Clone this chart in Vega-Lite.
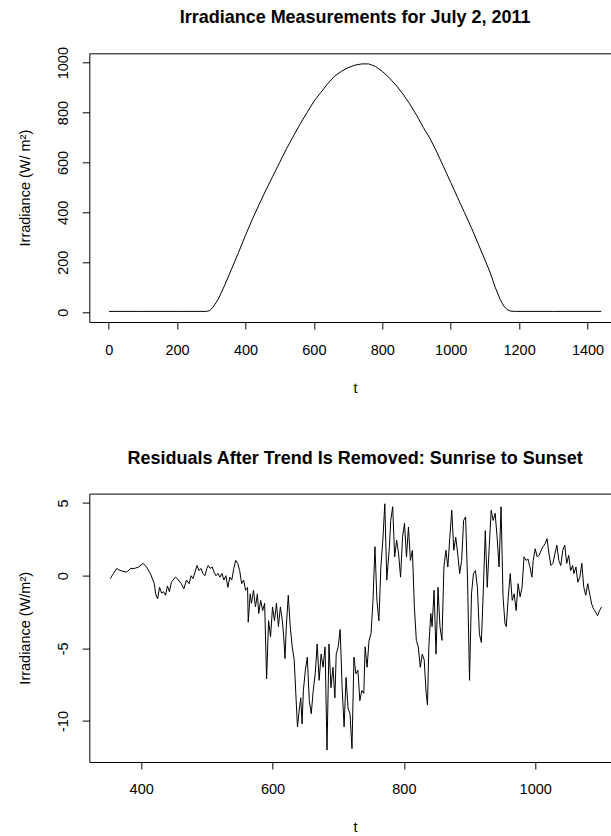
{
  "$schema": "https://vega.github.io/schema/vega-lite/v6.json",
  "autosize": {"type": "none"},
  "padding": {"left": 89.3, "top": 53.3, "right": 521.7, "bottom": 782.7},
  "bounds": "flush",
  "spacing": 171.3,
  "config": {
    "font": "Liberation Sans",
    "view": {"stroke": "#000", "strokeWidth": 1},
    "axis": {"grid": false, "domain": false, "ticks": true, "tickSize": 7, "tickColor": "#000", "tickWidth": 1,
      "labelFont": "Liberation Sans", "labelFontSize": 14.5, "labelColor": "#000",
      "titleFont": "Liberation Sans", "titleFontSize": 14.5, "titleFontWeight": "normal", "titleColor": "#000",
      "labelExpr": "'' + datum.value"},
    "axisX": {"labelPadding": 14, "labelBaseline": "top", "labelAngle": 0, "titleY": 70, "titleBaseline": "alphabetic", "titleAlign": "center"},
    "axisY": {"labelPadding": 15, "labelAngle": -90, "labelAlign": "center", "labelBaseline": "alphabetic", "titleAngle": -90, "titleX": -59.5, "titleY": 134.3, "titleBaseline": "alphabetic", "titleAlign": "center"},
    "title": {"font": "Liberation Sans", "fontSize": 18, "fontWeight": "bold", "color": "#000", "anchor": "middle", "frame": "group", "baseline": "alphabetic", "offset": 26}
  },
  "datasets": {
    "day": [
      {"t": 1, "irr": 3}, {"t": 100, "irr": 3}, {"t": 200, "irr": 3}, {"t": 285, "irr": 3}, {"t": 295, "irr": 6},
      {"t": 305, "irr": 20}, {"t": 315, "irr": 40}, {"t": 325, "irr": 65}, {"t": 340, "irr": 110}, {"t": 360, "irr": 175},
      {"t": 380, "irr": 240}, {"t": 400, "irr": 308}, {"t": 420, "irr": 372}, {"t": 440, "irr": 432}, {"t": 460, "irr": 490},
      {"t": 480, "irr": 545}, {"t": 500, "irr": 600}, {"t": 520, "irr": 655}, {"t": 540, "irr": 705}, {"t": 560, "irr": 755},
      {"t": 580, "irr": 800}, {"t": 600, "irr": 845}, {"t": 620, "irr": 880}, {"t": 640, "irr": 915}, {"t": 660, "irr": 945},
      {"t": 680, "irr": 965}, {"t": 700, "irr": 980}, {"t": 720, "irr": 990}, {"t": 740, "irr": 995}, {"t": 760, "irr": 995},
      {"t": 780, "irr": 985}, {"t": 800, "irr": 965}, {"t": 820, "irr": 940}, {"t": 840, "irr": 910}, {"t": 860, "irr": 875},
      {"t": 880, "irr": 835}, {"t": 900, "irr": 790}, {"t": 920, "irr": 740}, {"t": 940, "irr": 695}, {"t": 960, "irr": 640},
      {"t": 980, "irr": 580}, {"t": 1000, "irr": 520}, {"t": 1020, "irr": 460}, {"t": 1040, "irr": 400}, {"t": 1060, "irr": 340},
      {"t": 1080, "irr": 275}, {"t": 1100, "irr": 210}, {"t": 1115, "irr": 160}, {"t": 1130, "irr": 100}, {"t": 1145, "irr": 50},
      {"t": 1155, "irr": 25}, {"t": 1165, "irr": 10}, {"t": 1175, "irr": 4}, {"t": 1190, "irr": 3}, {"t": 1300, "irr": 3},
      {"t": 1440, "irr": 3}
    ],
    "resid": [
      {"t": 353, "r": -0.2}, {"t": 357, "r": 0.1}, {"t": 363, "r": 0.5}, {"t": 366, "r": 0.4}, {"t": 372, "r": 0.3},
      {"t": 378, "r": 0.25}, {"t": 384, "r": 0.5}, {"t": 390, "r": 0.5}, {"t": 396, "r": 0.6}, {"t": 403, "r": 0.85},
      {"t": 408, "r": 0.6}, {"t": 414, "r": 0.15}, {"t": 420, "r": -0.55}, {"t": 422, "r": -1.25}, {"t": 425, "r": -1.6},
      {"t": 428, "r": -0.8}, {"t": 431, "r": -1.2}, {"t": 434, "r": -1.1}, {"t": 437, "r": -1.35}, {"t": 440, "r": -0.7},
      {"t": 443, "r": -1.1}, {"t": 446, "r": -0.45}, {"t": 452, "r": -0.1}, {"t": 455, "r": -0.2}, {"t": 461, "r": -0.55},
      {"t": 465, "r": -0.9}, {"t": 469, "r": -0.3}, {"t": 473, "r": -0.55}, {"t": 476, "r": 0}, {"t": 479, "r": -0.2},
      {"t": 482, "r": 0.25}, {"t": 485, "r": 0.7}, {"t": 488, "r": 0.35}, {"t": 491, "r": 0.5}, {"t": 494, "r": 0.15},
      {"t": 497, "r": 0}, {"t": 500, "r": 0.5}, {"t": 502, "r": 0.7}, {"t": 505, "r": 0.5}, {"t": 508, "r": 0.6},
      {"t": 511, "r": 0.25}, {"t": 514, "r": 0}, {"t": 517, "r": 0.15}, {"t": 520, "r": -0.1}, {"t": 523, "r": 0.15},
      {"t": 526, "r": -0.3}, {"t": 529, "r": 0}, {"t": 532, "r": -0.8}, {"t": 535, "r": -0.1}, {"t": 538, "r": -0.3},
      {"t": 541, "r": 0.5}, {"t": 544, "r": 1.05}, {"t": 547, "r": 0.85}, {"t": 550, "r": 0.35}, {"t": 553, "r": -0.55},
      {"t": 556, "r": -0.3}, {"t": 559, "r": -1}, {"t": 562, "r": -0.8}, {"t": 563, "r": -3.2}, {"t": 566, "r": -1.25},
      {"t": 568, "r": -1.9}, {"t": 571, "r": -1}, {"t": 574, "r": -2.15}, {"t": 577, "r": -1.25}, {"t": 579, "r": -2.6},
      {"t": 582, "r": -1.7}, {"t": 585, "r": -2.4}, {"t": 588, "r": -1.9}, {"t": 591, "r": -7.1}, {"t": 594, "r": -3.1},
      {"t": 597, "r": -4.2}, {"t": 600, "r": -2.15}, {"t": 603, "r": -3.1}, {"t": 606, "r": -1.9}, {"t": 609, "r": -3.5},
      {"t": 612, "r": -2.15}, {"t": 615, "r": -3.1}, {"t": 617, "r": -4.2}, {"t": 619, "r": -5.7}, {"t": 621, "r": -3.5},
      {"t": 624, "r": -1.35}, {"t": 627, "r": -3.5}, {"t": 630, "r": -4.9}, {"t": 633, "r": -5.8}, {"t": 636, "r": -8.6},
      {"t": 638, "r": -10.4}, {"t": 641, "r": -9.1}, {"t": 643, "r": -8.4}, {"t": 645, "r": -10.2}, {"t": 647, "r": -7.9},
      {"t": 650, "r": -6.5}, {"t": 653, "r": -5.6}, {"t": 656, "r": -8.6}, {"t": 659, "r": -9.5}, {"t": 662, "r": -7.9},
      {"t": 665, "r": -6.75}, {"t": 668, "r": -4.7}, {"t": 671, "r": -7.2}, {"t": 674, "r": -5.4}, {"t": 677, "r": -6.3},
      {"t": 680, "r": -4.9}, {"t": 683, "r": -12.0}, {"t": 686, "r": -4.7}, {"t": 689, "r": -7.7}, {"t": 692, "r": -6.3},
      {"t": 695, "r": -8.4}, {"t": 697, "r": -5.4}, {"t": 700, "r": -4.9}, {"t": 703, "r": -3.7}, {"t": 706, "r": -7.7},
      {"t": 709, "r": -10.4}, {"t": 712, "r": -7.0}, {"t": 715, "r": -9.1}, {"t": 718, "r": -9.5}, {"t": 721, "r": -11.9},
      {"t": 724, "r": -5.6}, {"t": 727, "r": -6.75}, {"t": 730, "r": -6.5}, {"t": 733, "r": -8.6}, {"t": 736, "r": -7.9},
      {"t": 739, "r": -8.1}, {"t": 741, "r": -4.9}, {"t": 744, "r": -6.3}, {"t": 747, "r": -4.45}, {"t": 750, "r": -4.0},
      {"t": 753, "r": -1.7}, {"t": 756, "r": 2.0}, {"t": 759, "r": -1.7}, {"t": 762, "r": -3.1}, {"t": 765, "r": 0.6},
      {"t": 768, "r": 2.45}, {"t": 771, "r": 4.95}, {"t": 774, "r": -0.3}, {"t": 778, "r": 2.0}, {"t": 780, "r": 3.8},
      {"t": 783, "r": 4.75}, {"t": 786, "r": 1.3}, {"t": 789, "r": 2.45}, {"t": 792, "r": 1.5}, {"t": 795, "r": -0.1},
      {"t": 798, "r": 2.65}, {"t": 801, "r": 3.6}, {"t": 804, "r": 1.3}, {"t": 807, "r": 3.35}, {"t": 810, "r": 1.05},
      {"t": 813, "r": 1.75}, {"t": 816, "r": -2.15}, {"t": 819, "r": -4.45}, {"t": 822, "r": -4.9}, {"t": 825, "r": -6.3},
      {"t": 828, "r": -5.4}, {"t": 831, "r": -5.8}, {"t": 834, "r": -8.1}, {"t": 836, "r": -8.9}, {"t": 838, "r": -4.9},
      {"t": 841, "r": -2.6}, {"t": 843, "r": -3.5}, {"t": 846, "r": -1}, {"t": 849, "r": -5.4}, {"t": 852, "r": -0.8},
      {"t": 855, "r": -3.5}, {"t": 858, "r": -4.45}, {"t": 861, "r": 0.6}, {"t": 864, "r": 1.75}, {"t": 867, "r": 0.6},
      {"t": 870, "r": 2.65}, {"t": 873, "r": 4.5}, {"t": 876, "r": 1.75}, {"t": 879, "r": 2.65}, {"t": 882, "r": 1.5},
      {"t": 885, "r": 0.15}, {"t": 888, "r": 1.05}, {"t": 891, "r": 3.8}, {"t": 894, "r": 4.05}, {"t": 897, "r": -0.3},
      {"t": 900, "r": -7.2}, {"t": 903, "r": -1.25}, {"t": 906, "r": 0.15}, {"t": 909, "r": 0.35}, {"t": 912, "r": -0.8},
      {"t": 915, "r": -4.0}, {"t": 918, "r": -4.6}, {"t": 921, "r": -1}, {"t": 924, "r": 3.1}, {"t": 927, "r": -0.8},
      {"t": 930, "r": 2.0}, {"t": 933, "r": 4.5}, {"t": 936, "r": 3.8}, {"t": 939, "r": 4.3}, {"t": 942, "r": 2.65},
      {"t": 945, "r": 0.6}, {"t": 948, "r": 4.75}, {"t": 951, "r": -1.45}, {"t": 954, "r": -3.3}, {"t": 956, "r": -3.5},
      {"t": 959, "r": -1.45}, {"t": 962, "r": 0.15}, {"t": 965, "r": -1.7}, {"t": 968, "r": -1.25}, {"t": 971, "r": -2.4},
      {"t": 974, "r": -0.55}, {"t": 977, "r": -1.45}, {"t": 980, "r": -0.8}, {"t": 983, "r": 1.3}, {"t": 986, "r": 1.05},
      {"t": 989, "r": 1.15}, {"t": 992, "r": 0.6}, {"t": 995, "r": -0.1}, {"t": 997, "r": 1.05}, {"t": 1000, "r": 1.85},
      {"t": 1003, "r": 1.3}, {"t": 1006, "r": 1.4}, {"t": 1009, "r": 1.75}, {"t": 1012, "r": 2.0}, {"t": 1015, "r": 2.2},
      {"t": 1018, "r": 2.55}, {"t": 1021, "r": 1.5}, {"t": 1024, "r": 0.7}, {"t": 1027, "r": 0.85}, {"t": 1030, "r": 1.5},
      {"t": 1033, "r": 2.1}, {"t": 1036, "r": 1.05}, {"t": 1039, "r": 0.7}, {"t": 1042, "r": 1.75}, {"t": 1045, "r": 2.1},
      {"t": 1048, "r": 0.85}, {"t": 1051, "r": 1.4}, {"t": 1054, "r": 0.35}, {"t": 1057, "r": 0.7}, {"t": 1059, "r": 0.15},
      {"t": 1062, "r": 0.6}, {"t": 1065, "r": -0.45}, {"t": 1068, "r": -0.1}, {"t": 1071, "r": 0.85}, {"t": 1074, "r": -0.8},
      {"t": 1077, "r": -1.35}, {"t": 1080, "r": -0.55}, {"t": 1083, "r": -1.25}, {"t": 1086, "r": -1.95}, {"t": 1089, "r": -2.3},
      {"t": 1092, "r": -2.5}, {"t": 1095, "r": -2.75}, {"t": 1098, "r": -2.4}, {"t": 1101, "r": -2.15}
    ]
  },
  "vconcat": [
    {
      "title": {"text": "Irradiance Measurements for July 2, 2011", "offset": 19.3},
      "width": 531.6,
      "height": 268.7,
      "data": {"name": "day"},
      "mark": {"type": "line", "color": "#000", "strokeWidth": 1, "clip": true},
      "encoding": {
        "x": {"field": "t", "type": "quantitative", "title": "t",
          "scale": {"domain": [-56.6, 1497.6], "nice": false, "zero": false},
          "axis": {"values": [0, 200, 400, 600, 800, 1000, 1200, 1400]}},
        "y": {"field": "irr", "type": "quantitative", "title": "Irradiance (W/ m²)",
          "scale": {"domain": [-39.5, 1037.5], "nice": false, "zero": false},
          "axis": {"values": [0, 200, 400, 600, 800, 1000]}}
      }
    },
    {
      "title": {"text": "Residuals After Trend Is Removed: Sunrise to Sunset", "offset": 26},
      "width": 531.6,
      "height": 268.4,
      "data": {"name": "resid"},
      "mark": {"type": "line", "color": "#000", "strokeWidth": 1, "clip": true},
      "encoding": {
        "x": {"field": "t", "type": "quantitative", "title": "t",
          "scale": {"domain": [321, 1130.5], "nice": false, "zero": false},
          "axis": {"values": [400, 600, 800, 1000]}},
        "y": {"field": "r", "type": "quantitative", "title": "Irradiance (W/m²)",
          "scale": {"domain": [-12.82, 5.65], "nice": false, "zero": false},
          "axis": {"values": [-10, -5, 0, 5], "titleY": 134.2}}
      }
    }
  ]
}
